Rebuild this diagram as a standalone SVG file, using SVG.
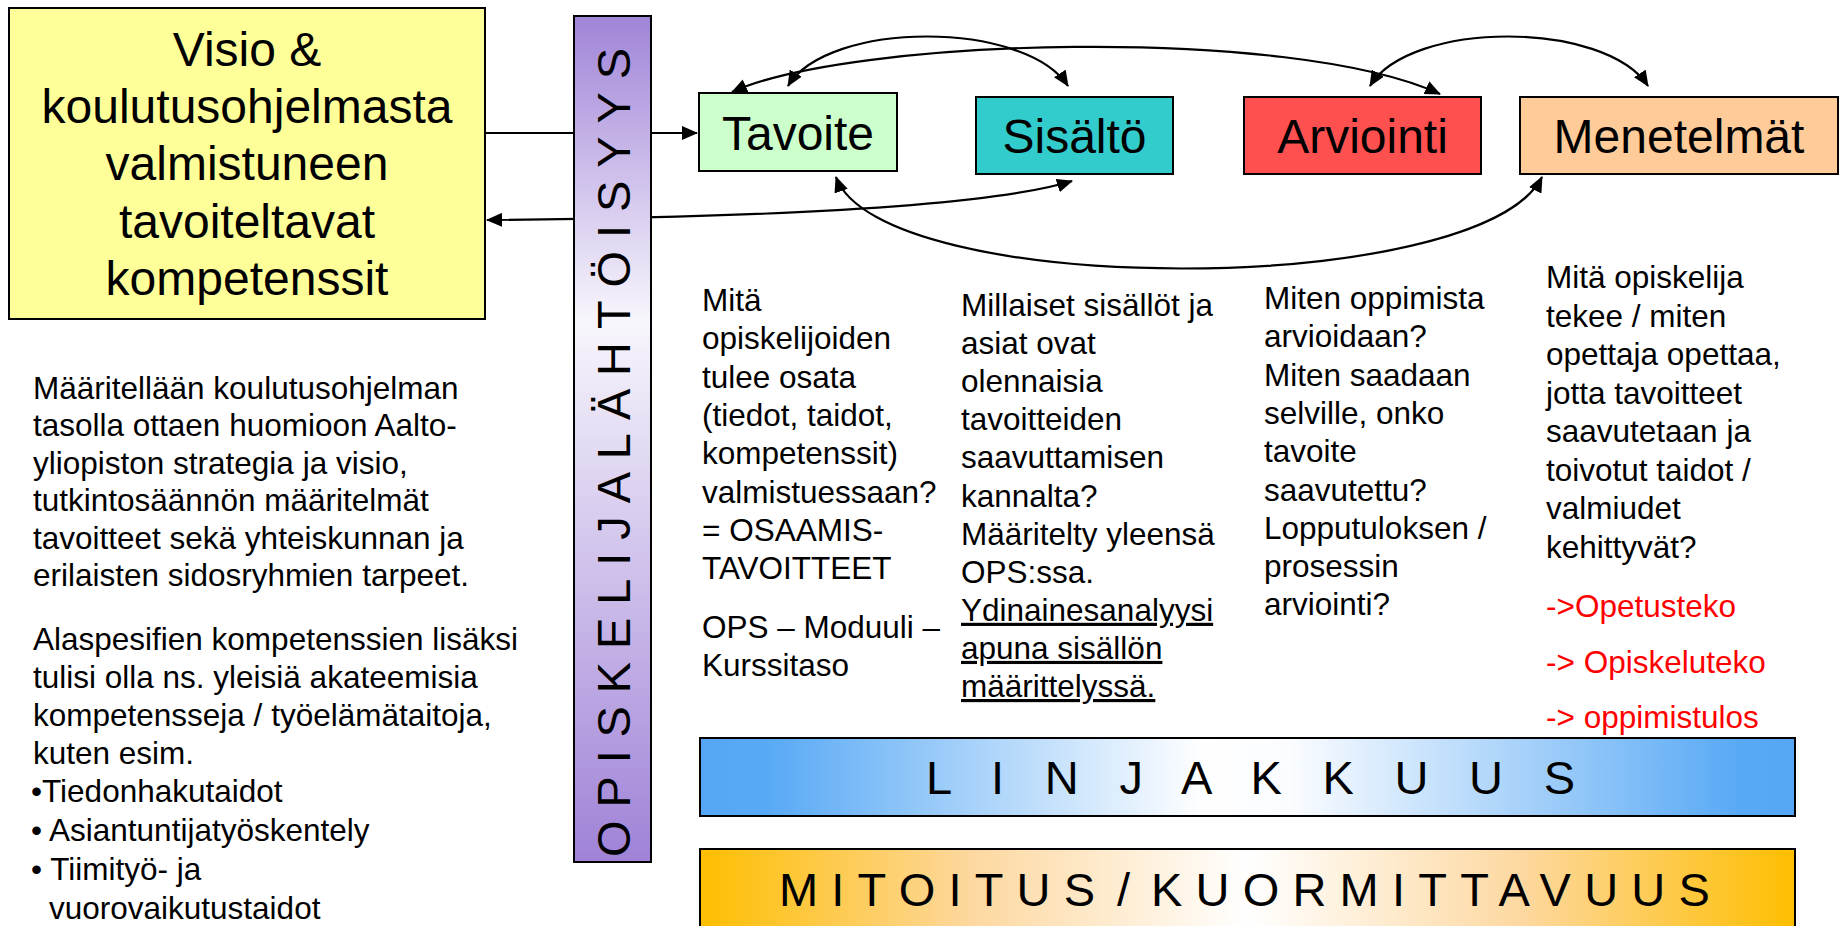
<svg xmlns="http://www.w3.org/2000/svg" width="1843" height="926" viewBox="0 0 1843 926">
<defs>
<style>
text{font-family:"Liberation Sans",Arial,sans-serif;fill:#000}
.big{font-size:48px;text-anchor:middle}
.body{font-size:31.5px}
.red{fill:#FF0000}
.u{text-decoration:underline}
.box{stroke:#000;stroke-width:2}
.conn{fill:none;stroke:#000;stroke-width:2.2}
.band{font-size:47px}
</style>
<marker id="ah" markerUnits="userSpaceOnUse" markerWidth="16" markerHeight="14" refX="15" refY="7" orient="auto-start-reverse">
<path d="M0,0 L16,7 L0,14 Z" fill="#000"/>
</marker>
<linearGradient id="gPurple" x1="0" y1="0" x2="0" y2="1">
<stop offset="0" stop-color="#A084D8"/>
<stop offset="0.36" stop-color="#F8F6FC"/>
<stop offset="1" stop-color="#9F82D7"/>
</linearGradient>
<linearGradient id="gBlue" x1="0" y1="0" x2="1" y2="0">
<stop offset="0" stop-color="#55A7F5"/>
<stop offset="0.06" stop-color="#58A9F5"/>
<stop offset="0.46" stop-color="#FFFFFF"/>
<stop offset="0.54" stop-color="#FAFCFF"/>
<stop offset="0.95" stop-color="#58A9F5"/>
<stop offset="1" stop-color="#55A7F5"/>
</linearGradient>
<linearGradient id="gOrange" x1="0" y1="0" x2="1" y2="0">
<stop offset="0" stop-color="#FFBE00"/>
<stop offset="0.04" stop-color="#FEC21A"/>
<stop offset="0.25" stop-color="#FDD8A0"/>
<stop offset="0.5" stop-color="#FFFFFF"/>
<stop offset="0.75" stop-color="#FDD8A0"/>
<stop offset="0.96" stop-color="#FEC21A"/>
<stop offset="1" stop-color="#FFBE00"/>
</linearGradient>
</defs>
<rect width="1843" height="926" fill="#FFFFFF"/>

<g id="connectors">
<path class="conn" d="M485 133 L697 133" marker-end="url(#ah)"/>
<path class="conn" d="M487 220 C700 218, 980 210, 1072 181" marker-start="url(#ah)" marker-end="url(#ah)"/>
<path class="conn" d="M788 86 C828 20, 1025 20, 1068 86" marker-start="url(#ah)" marker-end="url(#ah)"/>
<path class="conn" d="M732 92 C850 38, 1290 25, 1440 94" marker-start="url(#ah)" marker-end="url(#ah)"/>
<path class="conn" d="M1370 86 C1410 20, 1605 20, 1648 86" marker-start="url(#ah)" marker-end="url(#ah)"/>
<path class="conn" d="M836 177 C880 299, 1480 299, 1542 177" marker-start="url(#ah)" marker-end="url(#ah)"/>
</g>

<g id="vision">
<rect class="box" x="9" y="8" width="476" height="311" fill="#FFFF99"/>
<text class="big" x="247" y="66">Visio &amp;</text>
<text class="big" x="247" y="123">koulutusohjelmasta</text>
<text class="big" x="247" y="180">valmistuneen</text>
<text class="big" x="247" y="238">tavoiteltavat</text>
<text class="big" x="247" y="295">kompetenssit</text>
</g>

<g id="opiskelijalahtoisyys">
<rect class="box" x="574" y="16" width="77" height="846" fill="url(#gPurple)"/>
<text class="band" transform="translate(630,857) rotate(-90)" textLength="809" lengthAdjust="spacing">OPISKELIJALÄHTÖISYYS</text>
</g>

<g id="tavoite">
<rect class="box" x="699" y="93" width="198" height="78" fill="#CCFFCC"/>
<text class="big" x="798" y="150">Tavoite</text>
</g>
<g id="sisalto">
<rect class="box" x="976" y="97" width="197" height="77" fill="#33CCCC"/>
<text class="big" x="1074.5" y="153">Sisältö</text>
</g>
<g id="arviointi">
<rect class="box" x="1244" y="97" width="237" height="77" fill="#FF5050"/>
<text class="big" x="1362.5" y="153">Arviointi</text>
</g>
<g id="menetelmat">
<rect class="box" x="1520" y="97" width="318" height="77" fill="#FFCC99"/>
<text class="big" x="1679" y="153">Menetelmät</text>
</g>

<g id="left-text">
<text class="body" x="33" y="399">Määritellään koulutusohjelman</text>
<text class="body" x="33" y="436.4">tasolla ottaen huomioon Aalto-</text>
<text class="body" x="33" y="473.8">yliopiston strategia ja visio,</text>
<text class="body" x="33" y="511.2">tutkintosäännön määritelmät</text>
<text class="body" x="33" y="548.6">tavoitteet sekä yhteiskunnan ja</text>
<text class="body" x="33" y="586">erilaisten sidosryhmien tarpeet.</text>
<text class="body" x="33" y="650">Alaspesifien kompetenssien lisäksi</text>
<text class="body" x="33" y="688">tulisi olla ns. yleisiä akateemisia</text>
<text class="body" x="33" y="726">kompetensseja / työelämätaitoja,</text>
<text class="body" x="33" y="764">kuten esim.</text>
<text class="body" x="31" y="802">•Tiedonhakutaidot</text>
<text class="body" x="31" y="841">• Asiantuntijatyöskentely</text>
<text class="body" x="31" y="880">• Tiimityö- ja</text>
<text class="body" x="49" y="919">vuorovaikutustaidot</text>
</g>

<g id="tavoite-text">
<text class="body" x="702" y="311">Mitä</text>
<text class="body" x="702" y="349.3">opiskelijoiden</text>
<text class="body" x="702" y="387.6">tulee osata</text>
<text class="body" x="702" y="425.9">(tiedot, taidot,</text>
<text class="body" x="702" y="464.2">kompetenssit)</text>
<text class="body" x="702" y="502.5">valmistuessaan?</text>
<text class="body" x="702" y="540.8">= OSAAMIS-</text>
<text class="body" x="702" y="579.1">TAVOITTEET</text>
<text class="body" x="702" y="638">OPS – Moduuli –</text>
<text class="body" x="702" y="676.3">Kurssitaso</text>
</g>

<g id="sisalto-text">
<text class="body" x="961" y="316">Millaiset sisällöt ja</text>
<text class="body" x="961" y="354.1">asiat ovat</text>
<text class="body" x="961" y="392.2">olennaisia</text>
<text class="body" x="961" y="430.3">tavoitteiden</text>
<text class="body" x="961" y="468.4">saavuttamisen</text>
<text class="body" x="961" y="506.5">kannalta?</text>
<text class="body" x="961" y="544.6">Määritelty yleensä</text>
<text class="body" x="961" y="582.7">OPS:ssa.</text>
<text class="body u" x="961" y="620.8">Ydinainesanalyysi</text>
<text class="body u" x="961" y="658.9">apuna sisällön</text>
<text class="body u" x="961" y="697">määrittelyssä.</text>
</g>

<g id="arviointi-text">
<text class="body" x="1264" y="309">Miten oppimista</text>
<text class="body" x="1264" y="347.3">arvioidaan?</text>
<text class="body" x="1264" y="385.6">Miten saadaan</text>
<text class="body" x="1264" y="423.9">selville, onko</text>
<text class="body" x="1264" y="462.2">tavoite</text>
<text class="body" x="1264" y="500.5">saavutettu?</text>
<text class="body" x="1264" y="538.8">Lopputuloksen /</text>
<text class="body" x="1264" y="577.1">prosessin</text>
<text class="body" x="1264" y="615.4">arviointi?</text>
</g>

<g id="menetelmat-text">
<text class="body" x="1546" y="288">Mitä opiskelija</text>
<text class="body" x="1546" y="326.5">tekee / miten</text>
<text class="body" x="1546" y="365">opettaja opettaa,</text>
<text class="body" x="1546" y="403.5">jotta tavoitteet</text>
<text class="body" x="1546" y="442">saavutetaan ja</text>
<text class="body" x="1546" y="480.5">toivotut taidot /</text>
<text class="body" x="1546" y="519">valmiudet</text>
<text class="body" x="1546" y="557.5">kehittyvät?</text>
<text class="body red" x="1546" y="617">-&gt;Opetusteko</text>
<text class="body red" x="1546" y="673">-&gt; Opiskeluteko</text>
<text class="body red" x="1546" y="728">-&gt; oppimistulos</text>
</g>

<g id="linjakkuus">
<rect class="box" x="700" y="738" width="1095" height="78" fill="url(#gBlue)"/>
<text class="band" x="926" y="794" textLength="649" lengthAdjust="spacing">L I N J A K K U U S</text>
</g>

<g id="mitoitus">
<rect class="box" x="700" y="849" width="1095" height="100" fill="url(#gOrange)"/>
<text class="band" x="779" y="906" letter-spacing="13.2">MITOITUS<tspan letter-spacing="-4.4"> </tspan><tspan letter-spacing="21">/</tspan>KUORMITTAVUUS</text>
</g>
</svg>
